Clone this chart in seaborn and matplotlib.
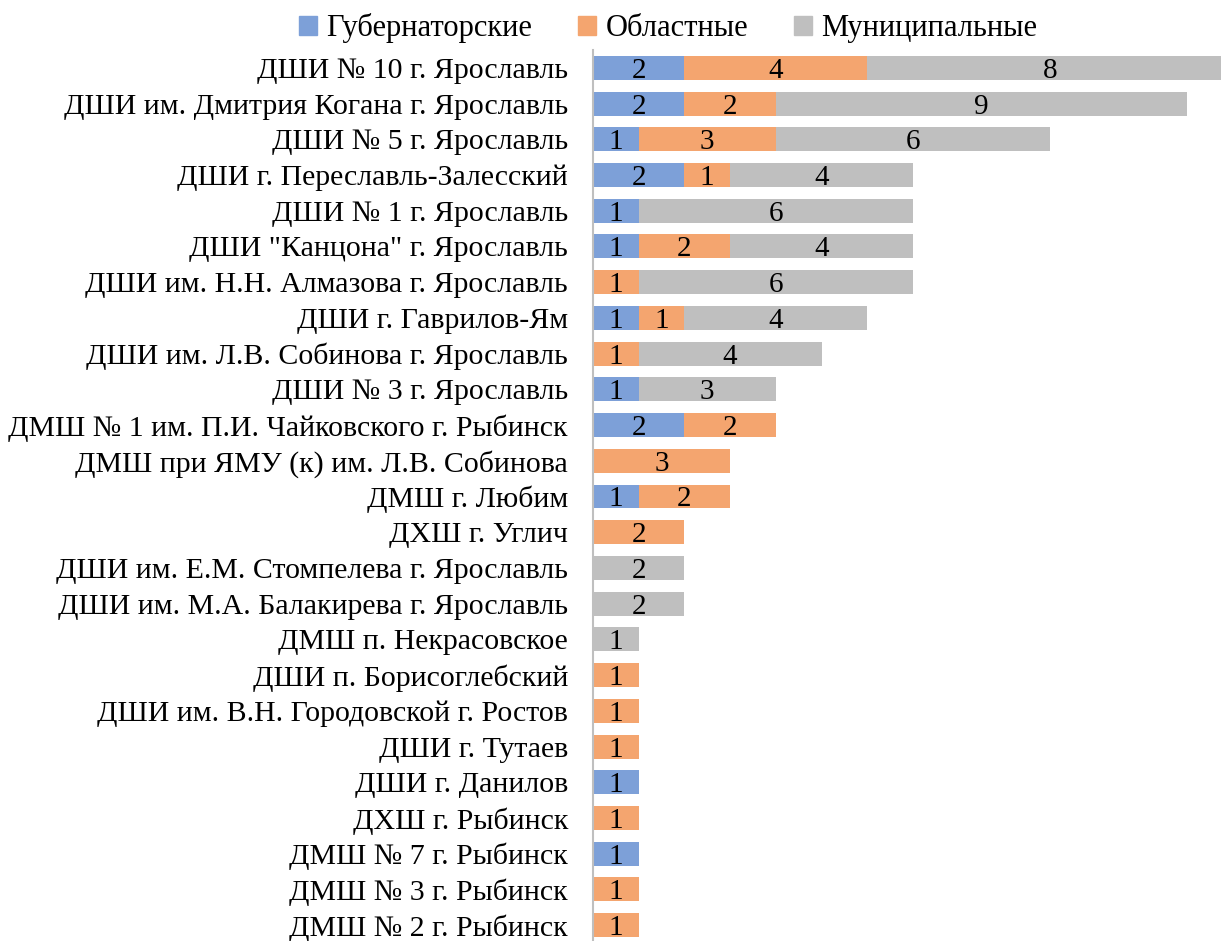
import numpy as np
import pandas as pd
import matplotlib
matplotlib.use("Agg")
import matplotlib.pyplot as plt
import seaborn as sns
from matplotlib.patches import Patch

schools = [
    "ДШИ № 10 г. Ярославль",
    "ДШИ им. Дмитрия Когана г. Ярославль",
    "ДШИ № 5 г. Ярославль",
    "ДШИ г. Переславль-Залесский",
    "ДШИ № 1 г. Ярославль",
    "ДШИ \"Канцона\" г. Ярославль",
    "ДШИ им. Н.Н. Алмазова г. Ярославль",
    "ДШИ г. Гаврилов-Ям",
    "ДШИ им. Л.В. Собинова г. Ярославль",
    "ДШИ № 3 г. Ярославль",
    "ДМШ № 1 им. П.И. Чайковского г. Рыбинск",
    "ДМШ при ЯМУ (к) им. Л.В. Собинова",
    "ДМШ г. Любим",
    "ДХШ г. Углич",
    "ДШИ им. Е.М. Стомпелева г. Ярославль",
    "ДШИ им. М.А. Балакирева г. Ярославль",
    "ДМШ п. Некрасовское",
    "ДШИ п. Борисоглебский",
    "ДШИ им. В.Н. Городовской г. Ростов",
    "ДШИ г. Тутаев",
    "ДШИ г. Данилов",
    "ДХШ г. Рыбинск",
    "ДМШ № 7 г. Рыбинск",
    "ДМШ № 3 г. Рыбинск",
    "ДМШ № 2 г. Рыбинск",
]
governor = [2, 2, 1, 2, 1, 1, 0, 1, 0, 1, 2, 0, 1, 0, 0, 0, 0, 0, 0, 0, 1, 0, 1, 0, 0]
regional = [4, 2, 3, 1, 0, 2, 1, 1, 1, 0, 2, 3, 2, 2, 0, 0, 0, 1, 1, 1, 0, 1, 0, 1, 1]
municipal = [8, 9, 6, 4, 6, 4, 6, 4, 4, 3, 0, 0, 0, 0, 2, 2, 1, 0, 0, 0, 0, 0, 0, 0, 0]

series = ["Губернаторские", "Областные", "Муниципальные"]
colors = ["#7DA0D8", "#F4A56F", "#BFBFBF"]

df = pd.DataFrame({"school": schools, series[0]: governor,
                   series[1]: regional, series[2]: municipal})
cum = df[series].cumsum(axis=1)

sns.set_style("white")
plt.rcParams["font.family"] = ["Liberation Serif", "DejaVu Serif"]
plt.rcParams["text.color"] = "black"
plt.rcParams["ytick.color"] = "black"

fig = plt.figure(figsize=(12.21, 9.41), dpi=100)
ax = fig.add_axes([593 / 1221, -2 / 941, 628 / 1221, 893 / 941])

# draw stacked bars back to front: totals first, then partial sums
for name, color in reversed(list(zip(series, colors))):
    sns.barplot(x=cum[name], y=df["school"], color=color, width=0.67,
                orient="h", ax=ax, saturation=1, linewidth=0)

# centred data labels in each segment
for i in range(len(df)):
    left = 0
    for name in series:
        v = df.loc[i, name]
        if v > 0:
            ax.text(left + v / 2, i, str(v), ha="center", va="center_baseline",
                    fontsize=21, color="black")
        left += v

ax.set_xlim(0, 628 / 45.7)
ax.set_ylim(len(df) - 0.5, -0.5)
ax.set_xlabel("")
ax.set_ylabel("")
ax.set_xticks([])
ax.tick_params(axis="y", length=0, labelsize=21.5, pad=18)
for s in ["top", "right", "bottom"]:
    ax.spines[s].set_visible(False)
ax.spines["left"].set_color("#BFBFBF")
ax.spines["left"].set_linewidth(1.5)

handles = [Patch(color=c, label=n) for n, c in zip(series, colors)]
fig.legend(handles=handles, loc="center", bbox_to_anchor=(668 / 1221, 1 - 28 / 941),
           ncol=3, frameon=False, fontsize=22, handlelength=0.6, handleheight=0.6,
           handletextpad=0.3, columnspacing=1.5)

fig.savefig("out.png", dpi=100)
